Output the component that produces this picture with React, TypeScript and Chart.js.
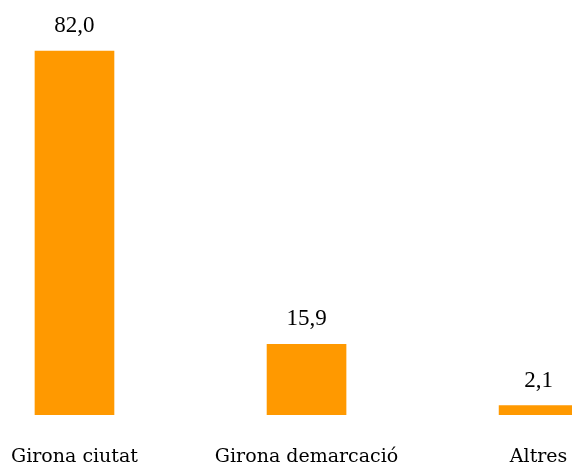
import React, { useEffect, useRef } from "react";
import { Chart, registerables } from "chart.js";

Chart.register(...registerables);

const categories: string[] = ["Girona ciutat", "Girona demarcació", "Altres"];
const values: number[] = [82.0, 15.9, 2.1];

const BAR_COLOR = "#FF9900";

const valueLabels = {
  id: "valueLabels",
  afterDatasetsDraw(chart: any) {
    const { ctx } = chart;
    const meta = chart.getDatasetMeta(0);
    ctx.save();
    ctx.font = "23px 'Liberation Serif'";
    ctx.fillStyle = "#000";
    ctx.textAlign = "center";
    ctx.textBaseline = "alphabetic";
    meta.data.forEach((bar: any, i: number) => {
      const txt = values[i].toFixed(1).replace(".", ",");
      ctx.fillText(txt, bar.x, bar.y - 19);
    });
    ctx.restore();
  },
};

export default function App() {
  const ref = useRef<HTMLCanvasElement | null>(null);
  useEffect(() => {
    if (!ref.current) return;
    const chart = new Chart(ref.current, {
      type: "bar",
      data: {
        datasets: [
          {
            data: categories.map((c, i) => ({ x: i, y: values[i] })),
            backgroundColor: BAR_COLOR,
            borderWidth: 0,
            barThickness: 79,
          },
        ],
      },
      options: {
        animation: false,
        responsive: true,
        maintainAspectRatio: false,
        layout: { padding: 0 },
        plugins: {
          legend: { display: false },
          tooltip: { enabled: false },
        },
        scales: {
          x: {
            type: "linear",
            offset: false,
            min: -0.321,
            max: 2.144,
            grid: { display: false, offset: false },
            border: { display: false },
            afterBuildTicks: (axis: any) => {
              axis.ticks = categories.map((c, i) => ({ value: i }));
            },
            afterFit: (axis: any) => {
              axis.paddingLeft = 0;
              axis.paddingRight = 0;
              axis.height = 51;
            },
            ticks: {
              padding: 23,
              color: "#000",
              font: { family: "'DejaVu Serif'", size: 19 },
              maxRotation: 0,
              minRotation: 0,
              autoSkip: false,
              callback: (v: any) => categories[v as number] ?? "",
            },
          },
          y: {
            display: false,
            min: 0,
            max: 93.5,
          },
        },
      },
      plugins: [valueLabels],
    });
    return () => chart.destroy();
  }, []);
  return (
    <div style={{ position: "fixed", left: 0, top: 0, width: 572, height: 466 }}>
      <canvas ref={ref} />
    </div>
  );
}
